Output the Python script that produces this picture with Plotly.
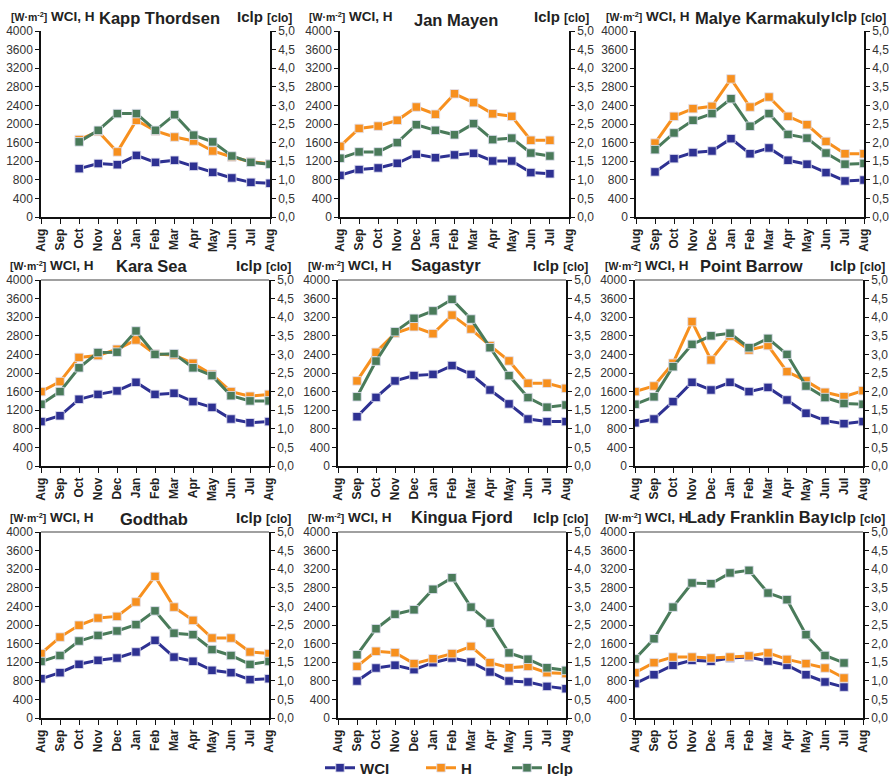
import plotly.graph_objects as go

# Month axis shared by all stations (Aug ... Aug)
MONTHS = ["Aug", "Sep", "Oct", "Nov", "Dec", "Jan", "Feb", "Mar", "Apr", "May", "Jun", "Jul", "Aug"]
X_POS = list(range(len(MONTHS)))

LEFT_TICKS = list(range(0, 4001, 400))
RIGHT_TICKS = [i * 0.5 for i in range(11)]
RIGHT_TICKTEXT = [f"{v:.1f}".replace(".", ",") for v in RIGHT_TICKS]

# Kapp Thordsen
kapp_wci = [None, None, 1040, 1150, 1125, 1325, 1175, 1220, 1090, 960, 840, 745, 725]
kapp_h = [None, None, 1665, 1840, 1400, 2080, 1850, 1720, 1635, 1420, 1290, 1190, 1145]
kapp_iclp = [None, None, 2.02, 2.33, 2.78, 2.78, 2.33, 2.75, 2.20, 2.02, 1.64, 1.47, 1.42]

# Jan Mayen
janm_wci = [895, 1020, 1055, 1155, 1350, 1275, 1335, 1370, 1205, 1205, 955, 930, None]
janm_h = [1520, 1905, 1955, 2080, 2365, 2210, 2650, 2460, 2220, 2165, 1650, 1650, None]
janm_iclp = [1.58, 1.75, 1.75, 2.00, 2.48, 2.33, 2.21, 2.51, 2.08, 2.12, 1.72, 1.64, None]

# Malye Karmakuly
malk_wci = [None, 970, 1255, 1385, 1420, 1685, 1360, 1485, 1220, 1135, 955, 775, 795]
malk_h = [None, 1590, 2165, 2330, 2380, 2970, 2365, 2580, 2165, 1985, 1625, 1360, 1360]
malk_iclp = [None, 1.81, 2.26, 2.60, 2.78, 3.18, 2.44, 2.78, 2.22, 2.12, 1.72, 1.42, 1.44]

# Kara Sea
kara_wci = [955, 1080, 1435, 1540, 1615, 1800, 1540, 1565, 1385, 1260, 1010, 930, 955]
kara_h = [1600, 1815, 2335, 2375, 2510, 2710, 2410, 2385, 2210, 1970, 1600, 1500, 1540]
kara_iclp = [1.66, 2.00, 2.64, 3.05, 3.06, 3.63, 3.00, 3.02, 2.64, 2.43, 1.89, 1.75, 1.75]

# Sagastyr
saga_wci = [None, 1060, 1475, 1830, 1945, 1970, 2160, 1970, 1635, 1335, 1010, 955, 955]
saga_h = [None, 1830, 2445, 2855, 2995, 2845, 3245, 2945, 2590, 2260, 1780, 1780, 1670]
saga_iclp = [None, 1.86, 2.82, 3.61, 3.97, 4.17, 4.48, 3.95, 3.18, 2.43, 1.84, 1.58, 1.64]

# Point Barrow
barr_wci = [930, 1010, 1385, 1800, 1635, 1800, 1600, 1690, 1420, 1135, 975, 910, 955]
barr_h = [1600, 1720, 2210, 3105, 2280, 2795, 2495, 2590, 2030, 1830, 1585, 1490, 1620]
barr_iclp = [1.66, 1.86, 2.67, 3.27, 3.50, 3.57, 3.18, 3.43, 3.00, 2.15, 1.84, 1.68, 1.66]

# Godthab
godt_wci = [845, 975, 1155, 1240, 1290, 1420, 1670, 1310, 1220, 1025, 975, 825, 845]
godt_h = [1385, 1740, 1995, 2150, 2185, 2495, 3045, 2385, 2100, 1720, 1720, 1420, 1385]
godt_iclp = [1.52, 1.68, 2.07, 2.22, 2.34, 2.51, 2.88, 2.28, 2.24, 1.84, 1.68, 1.44, 1.52]

# Kingua Fjord
king_wci = [None, 795, 1075, 1135, 1040, 1190, 1290, 1205, 990, 795, 775, 680, 630]
king_h = [None, 1110, 1435, 1405, 1170, 1275, 1385, 1540, 1190, 1080, 1110, 975, 955]
king_iclp = [None, 1.70, 2.40, 2.79, 2.91, 3.46, 3.77, 2.98, 2.55, 1.75, 1.58, 1.35, 1.28]

# Lady Franklin Bay
lady_wci = [740, 930, 1135, 1240, 1220, 1290, 1310, 1225, 1135, 930, 775, 665, None]
lady_h = [975, 1190, 1310, 1310, 1290, 1310, 1335, 1400, 1260, 1170, 1075, 860, None]
lady_iclp = [1.59, 2.13, 2.98, 3.63, 3.61, 3.90, 3.97, 3.36, 3.18, 2.24, 1.68, 1.48, None]

STATIONS = [
    ("Kapp Thordsen", kapp_wci, kapp_h, kapp_iclp),
    ("Jan Mayen", janm_wci, janm_h, janm_iclp),
    ("Malye Karmakuly", malk_wci, malk_h, malk_iclp),
    ("Kara Sea", kara_wci, kara_h, kara_iclp),
    ("Sagastyr", saga_wci, saga_h, saga_iclp),
    ("Point Barrow", barr_wci, barr_h, barr_iclp),
    ("Godthab", godt_wci, godt_h, godt_iclp),
    ("Kingua Fjord", king_wci, king_h, king_iclp),
    ("Lady Franklin Bay", lady_wci, lady_h, lady_iclp),
]

W, H = 891, 776
FONT = "Liberation Sans, Arial, sans-serif"
C_WCI = "#2E3192"
C_H = "#F7901E"
C_ICLP = "#4A7B5A"
AXIS_COL = "#111111"
TICK_COL = "#333333"

# plot-area frames in pixels: (left, right) per panel, (top, bottom) per row
FRAMES_X = [
    [(41, 270), (340, 569), (636, 864)],
    [(41, 269), (338, 566), (635, 863)],
    [(41, 269), (338, 566), (635, 863)],
]
FRAMES_Y = [(31, 217), (280, 466), (532, 718)]
HEADER_Y = [16, 265.5, 517]
TITLE_Y = [[18, 20, 18], [266, 265, 266], [519, 517, 517]]
TITLE_X = [[159, 456, 763], [151, 446, 751], [154, 462, 758]]
COL_LEFT = [[9, 307, 604], [8, 306, 603], [8, 306, 603]]
COL_RIGHT = [[294, 591, 888], [293, 590, 887], [293, 590, 887]]

# each series gets its own legend box along the bottom
LEGEND_X = {"WCI": 320, "H": 421, "Iclp": 507}
LEGEND_KEY = {"WCI": "legend", "H": "legend2", "Iclp": "legend3"}


def px(x):
    return x / W


def py(y):
    return 1 - y / H


fig = go.Figure()
layout = {}
annotations = []
shapes = []

for idx, (name, wci, hval, iclp) in enumerate(STATIONS):
    r, c = divmod(idx, 3)
    n = idx + 1
    xid = "x" if n == 1 else f"x{n}"
    yl_n, yr_n = 2 * n - 1, 2 * n
    ylid = "y" if yl_n == 1 else f"y{yl_n}"
    yrid = f"y{yr_n}"
    xkey = "xaxis" if n == 1 else f"xaxis{n}"
    ylkey = "yaxis" if yl_n == 1 else f"yaxis{yl_n}"
    yrkey = f"yaxis{yr_n}"

    x0, x1 = FRAMES_X[r][c]
    top, bot = FRAMES_Y[r]

    series = [
        ("WCI", wci, C_WCI, ylid),
        ("H", hval, C_H, ylid),
        ("Iclp", iclp, C_ICLP, yrid),
    ]
    for sname, vals, col, yid in series:
        fig.add_trace(go.Scatter(
            x=X_POS, y=vals, xaxis=xid, yaxis=yid,
            mode="lines+markers", name=sname, legendgroup=sname,
            legend=LEGEND_KEY[sname],
            showlegend=(idx == 0),
            line=dict(color=col, width=3),
            marker=dict(symbol="square", size=8.5, color=col,
                        line=dict(color="rgba(225,225,240,0.85)", width=1)),
            connectgaps=False, hoverinfo="skip",
        ))

    layout[xkey] = dict(
        domain=[px(x0), px(x1)], anchor=ylid, range=[0, 12],
        tickmode="array", tickvals=X_POS, ticktext=MONTHS, tickangle=-90,
        showgrid=False, zeroline=False, showline=True, linecolor=AXIS_COL,
        linewidth=1.5, ticks="outside", ticklen=5, tickwidth=1.2, tickcolor=AXIS_COL,
        tickfont=dict(family=FONT, size=12, color="#222222", weight="bold"),
        fixedrange=True,
    )
    layout[ylkey] = dict(
        domain=[py(bot), py(top)], anchor=xid, range=[0, 4000],
        tickmode="array", tickvals=LEFT_TICKS,
        showgrid=False, zeroline=False, showline=True, linecolor=AXIS_COL,
        linewidth=1.5, ticks="outside", ticklen=4, tickwidth=1.2, tickcolor=AXIS_COL,
        tickfont=dict(family=FONT, size=12, color=TICK_COL),
        fixedrange=True,
    )
    layout[yrkey] = dict(
        overlaying=ylid, side="right", anchor=xid, range=[0, 5],
        tickmode="array", tickvals=RIGHT_TICKS, ticktext=RIGHT_TICKTEXT,
        showgrid=False, zeroline=False, showline=True, linecolor=AXIS_COL,
        linewidth=1.5, ticks="outside", ticklen=4, tickwidth=1.2, tickcolor=AXIS_COL,
        tickfont=dict(family=FONT, size=12, color=TICK_COL),
        fixedrange=True,
    )

    # grey frame line along the top of the lower two rows
    if r > 0:
        shapes.append(dict(type="line", xref=f"{xid} domain", yref=f"{ylid} domain",
                           x0=0, x1=1, y0=1, y1=1,
                           line=dict(color="#808080", width=1.5)))

    annotations.append(dict(
        text="<b><span style='font-size:10.5px'>[W·m<sup>-2</sup>]</span> WCI, H</b>",
        x=px(COL_LEFT[r][c]), y=py(HEADER_Y[r]), xref="paper", yref="paper",
        xanchor="left", yanchor="middle", align="left", showarrow=False,
        font=dict(family=FONT, size=13.5, color="#222222"),
    ))
    annotations.append(dict(
        text="<b>Iclp <span style='font-size:12px'>[clo]</span></b>",
        x=px(COL_RIGHT[r][c]), y=py(HEADER_Y[r]), xref="paper", yref="paper",
        xanchor="right", yanchor="middle", align="right", showarrow=False,
        font=dict(family=FONT, size=15, color="#222222"),
    ))
    annotations.append(dict(
        text=f"<b>{name}</b>",
        x=px(TITLE_X[r][c]), y=py(TITLE_Y[r][c]), xref="paper", yref="paper",
        xanchor="center", yanchor="middle", showarrow=False,
        font=dict(family=FONT, size=16.5, color="#222222"),
    ))

legend_style = dict(
    orientation="h", yanchor="middle", xanchor="left", y=py(768),
    font=dict(family=FONT, size=15, color="#222222", weight="bold"),
    itemwidth=30, bgcolor="rgba(0,0,0,0)",
)

fig.update_layout(
    width=W, height=H,
    margin=dict(l=0, r=0, t=0, b=0, autoexpand=False),
    paper_bgcolor="white", plot_bgcolor="white",
    font=dict(family=FONT, color="#222222"),
    showlegend=True,
    legend=dict(x=px(LEGEND_X["WCI"]), **legend_style),
    legend2=dict(x=px(LEGEND_X["H"]), **legend_style),
    legend3=dict(x=px(LEGEND_X["Iclp"]), **legend_style),
    annotations=annotations,
    shapes=shapes,
    **layout,
)

fig.write_html("out.html")
